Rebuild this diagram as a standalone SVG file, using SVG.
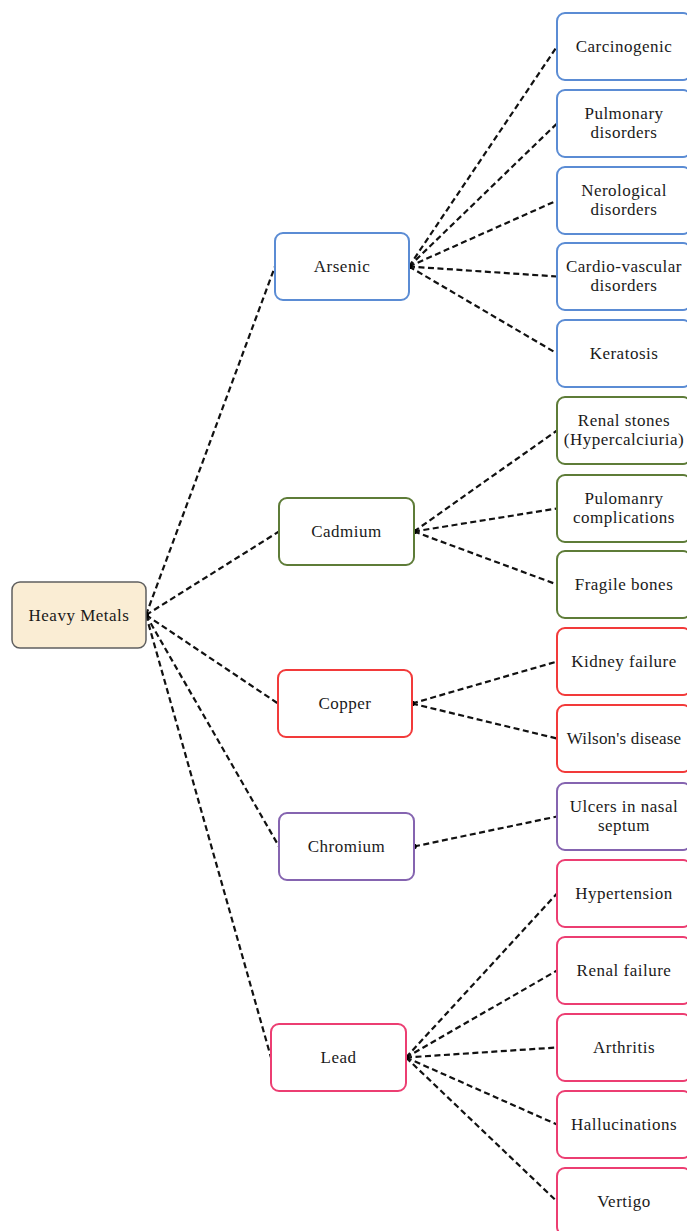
<svg xmlns="http://www.w3.org/2000/svg" width="687" height="1231" viewBox="0 0 687 1231">
<defs>
<marker id="dot" viewBox="0 0 6 6" refX="3" refY="3" markerWidth="2.6" markerHeight="2.6" markerUnits="strokeWidth"><circle cx="3" cy="3" r="3" fill="#000"/></marker>
<style>
.box{fill:#fff;stroke-width:2}
.root{fill:#FAEDD4;stroke:#5f5f5f;stroke-width:1.5}
.blue{stroke:#5B8CD4}
.green{stroke:#5E7C38}
.red{stroke:#F23A3A}
.purple{stroke:#8564B0}
.pink{stroke:#EC3E72}
.lbl text{font-size:17px;fill:#1a1a1a;text-anchor:middle;letter-spacing:0.5px}
.conn line{stroke:#111;stroke-width:2.2;stroke-dasharray:6 3.5;fill:none;marker-start:url(#dot)}
</style>
</defs>
<rect width="687" height="1231" fill="#fff"/>
<g id="connectors" class="conn">
<line x1="146" y1="615" x2="275" y2="266.5"/>
<line x1="146" y1="615" x2="279" y2="531.5"/>
<line x1="146" y1="615" x2="278" y2="703.5"/>
<line x1="146" y1="615" x2="279" y2="846.5"/>
<line x1="146" y1="615" x2="271" y2="1057.5"/>
<line x1="409" y1="266.5" x2="557" y2="46.5"/>
<line x1="409" y1="266.5" x2="557" y2="123.5"/>
<line x1="409" y1="266.5" x2="557" y2="200.5"/>
<line x1="409" y1="266.5" x2="557" y2="276.5"/>
<line x1="409" y1="266.5" x2="557" y2="353.5"/>
<line x1="414" y1="531.5" x2="557" y2="430.5"/>
<line x1="414" y1="531.5" x2="557" y2="508.5"/>
<line x1="414" y1="531.5" x2="557" y2="584.5"/>
<line x1="412" y1="703.5" x2="557" y2="661.5"/>
<line x1="412" y1="703.5" x2="557" y2="738.5"/>
<line x1="414" y1="846.5" x2="557" y2="816.5"/>
<line x1="406" y1="1057.5" x2="557" y2="893.5"/>
<line x1="406" y1="1057.5" x2="557" y2="970.5"/>
<line x1="406" y1="1057.5" x2="557" y2="1047.5"/>
<line x1="406" y1="1057.5" x2="557" y2="1124.5"/>
<line x1="406" y1="1057.5" x2="557" y2="1201.5"/>
</g>
<g class="lbl" font-family="'Liberation Serif', 'DejaVu Serif', 'Times New Roman', serif">
<g id="heavy-metals"><rect class="root" x="12" y="582" width="134" height="66" rx="8"/><text x="79" y="620.5">Heavy Metals</text></g>
<g id="arsenic"><rect class="box blue" x="275" y="233" width="134" height="67" rx="8"/><text x="342" y="272">Arsenic</text></g>
<g id="cadmium"><rect class="box green" x="279" y="498" width="135" height="67" rx="8"/><text x="346.5" y="537">Cadmium</text></g>
<g id="copper"><rect class="box red" x="278" y="670" width="134" height="67" rx="8"/><text x="345" y="709">Copper</text></g>
<g id="chromium"><rect class="box purple" x="279" y="813" width="135" height="67" rx="8"/><text x="346.5" y="852">Chromium</text></g>
<g id="lead"><rect class="box pink" x="271" y="1024" width="135" height="67" rx="8"/><text x="338.5" y="1063">Lead</text></g>
<g id="carcinogenic"><rect class="box blue" x="557" y="13" width="134" height="67" rx="8"/><text x="624" y="52">Carcinogenic</text></g>
<g id="pulmonary"><rect class="box blue" x="557" y="90" width="134" height="67" rx="8"/><text x="624" y="118.5">Pulmonary</text><text x="624" y="137.5">disorders</text></g>
<g id="nerological"><rect class="box blue" x="557" y="167" width="134" height="67" rx="8"/><text x="624" y="195.5">Nerological</text><text x="624" y="214.5">disorders</text></g>
<g id="cardio"><rect class="box blue" x="557" y="243" width="134" height="67" rx="8"/><text x="624" y="271.5">Cardio-vascular</text><text x="624" y="290.5">disorders</text></g>
<g id="keratosis"><rect class="box blue" x="557" y="320" width="134" height="67" rx="8"/><text x="624" y="359">Keratosis</text></g>
<g id="renal-stones"><rect class="box green" x="557" y="397" width="134" height="67" rx="8"/><text x="624" y="425.5">Renal stones</text><text x="624" y="444.5">(Hypercalciuria)</text></g>
<g id="pulomanry"><rect class="box green" x="557" y="475" width="134" height="67" rx="8"/><text x="624" y="503.5">Pulomanry</text><text x="624" y="522.5">complications</text></g>
<g id="fragile-bones"><rect class="box green" x="557" y="551" width="134" height="67" rx="8"/><text x="624" y="590">Fragile bones</text></g>
<g id="kidney-failure"><rect class="box red" x="557" y="628" width="134" height="67" rx="8"/><text x="624" y="667">Kidney failure</text></g>
<g id="wilsons"><rect class="box red" x="557" y="705" width="134" height="67" rx="8"/><text x="624" y="744" style="letter-spacing:0.2px">Wilson's disease</text></g>
<g id="ulcers"><rect class="box purple" x="557" y="783" width="134" height="67" rx="8"/><text x="624" y="811.5">Ulcers in nasal</text><text x="624" y="830.5">septum</text></g>
<g id="hypertension"><rect class="box pink" x="557" y="860" width="134" height="67" rx="8"/><text x="624" y="899">Hypertension</text></g>
<g id="renal-failure"><rect class="box pink" x="557" y="937" width="134" height="67" rx="8"/><text x="624" y="976">Renal failure</text></g>
<g id="arthritis"><rect class="box pink" x="557" y="1014" width="134" height="67" rx="8"/><text x="624" y="1053">Arthritis</text></g>
<g id="hallucinations"><rect class="box pink" x="557" y="1091" width="134" height="67" rx="8"/><text x="624" y="1130">Hallucinations</text></g>
<g id="vertigo"><rect class="box pink" x="557" y="1168" width="134" height="67" rx="8"/><text x="624" y="1207">Vertigo</text></g>
</g>
</svg>
